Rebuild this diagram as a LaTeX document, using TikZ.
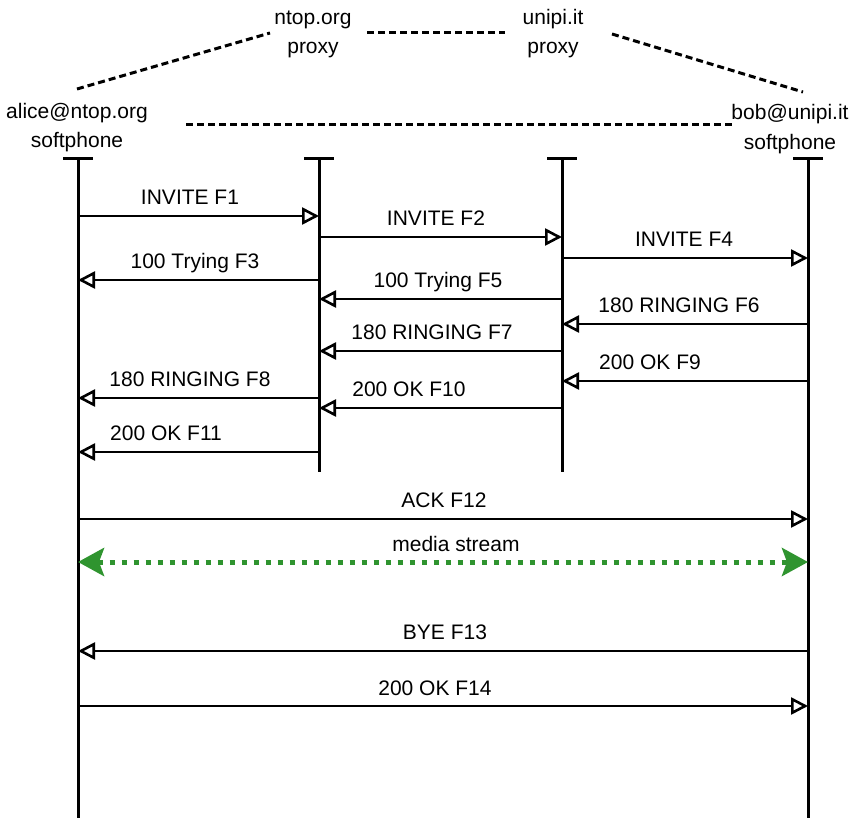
\documentclass[tikz,border=0pt]{standalone}
\usepackage{fontspec}
\setmainfont{Liberation Sans}
\usetikzlibrary{arrows.meta}

\definecolor{streamgreen}{RGB}{47,148,47}

\begin{document}
\begin{tikzpicture}[x=1pt, y=-1pt,
                every node/.style={font=\fontsize{21}{29}\selectfont, inner sep=0pt},
                header/.style={align=center, anchor=base},
                msgtext/.style={anchor=base},
                lifeline/.style={line width=3pt},
                msg/.style={line width=2.6pt, -{Triangle[open, length=17pt, width=17pt, fill=white]}},
                dashlink/.style={line width=3pt, dash pattern=on 7pt off 4pt},
                stream/.style={streamgreen, line width=5pt, dash pattern=on 5pt off 7pt,
                    {Stealth[length=26pt, width=28pt, inset=5pt]}-{Stealth[length=26pt, width=28pt, inset=5pt]}}
            ]
            \useasboundingbox (0,0) rectangle (856,824);

            % headers
            \node[header] (ntop) at (313,54) {ntop.org\\proxy};
            \node[header] (unipi) at (553,54) {unipi.it\\proxy};
            \node[header] (alice) at (77,147) {alice@ntop.org\\softphone};
            \node[header] (bob) at (790,149) {bob@unipi.it\\softphone};

            % dashed links between the parties
            \coordinate (l1s) at (77,89);   \coordinate (l1e) at (270,33);
            \coordinate (l2s) at (367,33);  \coordinate (l2e) at (505,33);
            \coordinate (l3s) at (612,34);  \coordinate (l3e) at (803,92);
            \coordinate (l4s) at (186,125); \coordinate (l4e) at (732,125);
            \draw[dashlink] (l1s) -- (l1e);
            \draw[dashlink] (l2s) -- (l2e);
            \draw[dashlink] (l3s) -- (l3e);
            \draw[dashlink] (l4s) -- (l4e);

            % lifelines
            \coordinate (atop) at (78,158);  \coordinate (abot) at (78,818);
            \coordinate (ntop) at (319,158); \coordinate (nbot) at (319,472);
            \coordinate (utop) at (562,158); \coordinate (ubot) at (562,472);
            \coordinate (btop) at (808,158); \coordinate (bbot) at (808,818);
            \draw[lifeline] (atop) -- (abot);
            \draw[lifeline] (ntop) -- (nbot);
            \draw[lifeline] (utop) -- (ubot);
            \draw[lifeline] (btop) -- (bbot);
            \draw[lifeline] ([xshift=-15pt]atop) -- ([xshift=15pt]atop);
            \draw[lifeline] ([xshift=-15pt]ntop) -- ([xshift=15pt]ntop);
            \draw[lifeline] ([xshift=-15pt]utop) -- ([xshift=15pt]utop);
            \draw[lifeline] ([xshift=-15pt]btop) -- ([xshift=15pt]btop);

            % messages
            \coordinate (a1) at (78,216);  \coordinate (n1) at (319,216);
            \coordinate (n2) at (319,237); \coordinate (u2) at (562,237);
            \coordinate (u4) at (562,258); \coordinate (b4) at (808,258);
            \coordinate (n3) at (319,280); \coordinate (a3) at (78,280);
            \coordinate (u5) at (562,299); \coordinate (n5) at (319,299);
            \coordinate (b6) at (808,324); \coordinate (u6) at (562,324);
            \coordinate (u7) at (562,351); \coordinate (n7) at (319,351);
            \coordinate (b9) at (808,381); \coordinate (u9) at (562,381);
            \coordinate (n8) at (319,398); \coordinate (a8) at (78,398);
            \coordinate (u10) at (562,408); \coordinate (n10) at (319,408);
            \coordinate (n11) at (319,452); \coordinate (a11) at (78,452);
            \coordinate (a12) at (78,519);  \coordinate (b12) at (808,519);
            \coordinate (as) at (78,562);   \coordinate (bs) at (808,562);
            \coordinate (b13) at (808,651); \coordinate (a13) at (78,651);
            \coordinate (a14) at (78,706);  \coordinate (b14) at (808,706);

            \draw[msg] (a1) -- (n1);
            \draw[msg] (n2) -- (u2);
            \draw[msg] (u4) -- (b4);
            \draw[msg] (n3) -- (a3);
            \draw[msg] (u5) -- (n5);
            \draw[msg] (b6) -- (u6);
            \draw[msg] (u7) -- (n7);
            \draw[msg] (b9) -- (u9);
            \draw[msg] (n8) -- (a8);
            \draw[msg] (u10) -- (n10);
            \draw[msg] (n11) -- (a11);
            \draw[msg] (a12) -- (b12);
            \draw[stream] (as) -- (bs);
            \draw[msg] (b13) -- (a13);
            \draw[msg] (a14) -- (b14);

            % message labels
            \node[msgtext] (f1) at (190,204) {INVITE F1};
            \node[msgtext] (f2) at (436,225) {INVITE F2};
            \node[msgtext] (f4) at (684,246) {INVITE F4};
            \node[msgtext] (f3) at (195,268) {100 Trying F3};
            \node[msgtext] (f5) at (438,287) {100 Trying F5};
            \node[msgtext] (f6) at (679,312) {180 RINGING F6};
            \node[msgtext] (f7) at (432,339) {180 RINGING F7};
            \node[msgtext] (f9) at (650,369) {200 OK F9};
            \node[msgtext] (f8) at (190,386) {180 RINGING F8};
            \node[msgtext] (f10) at (409,396) {200 OK F10};
            \node[msgtext] (f11) at (166,440) {200 OK F11};
            \node[msgtext] (f12) at (444,507) {ACK F12};
            \node[msgtext] (media) at (456,551) {media stream};
            \node[msgtext] (f13) at (445,639) {BYE F13};
            \node[msgtext] (f14) at (435,695) {200 OK F14};
            \end{tikzpicture}
\end{document}
